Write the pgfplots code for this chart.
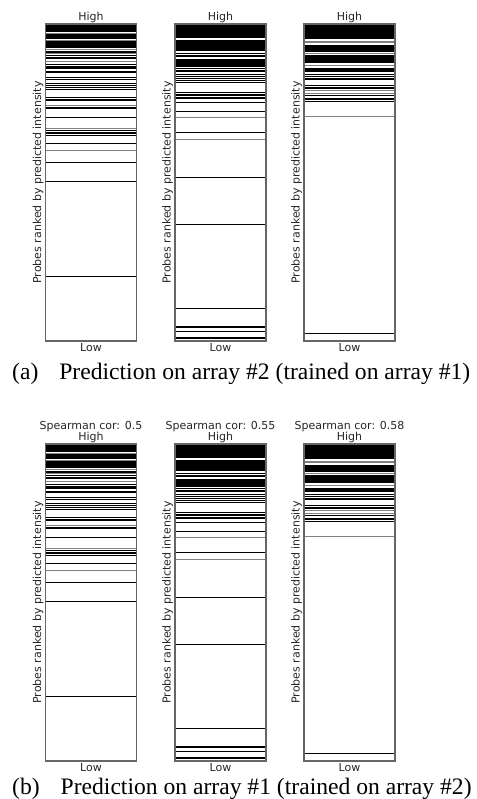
\documentclass[border=0pt]{standalone}
\usepackage{pgfplots}
\pgfplotsset{compat=1.18}
\usepackage{fontspec}
\setmainfont{DejaVu Sans}
\newfontfamily\capfont{Liberation Serif}
\newcommand{\lbl}{\fontsize{11}{11.5}\selectfont}
\newcommand{\blk}[2]{\addplot[fill=black,draw=none,forget plot] coordinates {(0,#1) (1,#1) (1,#2) (0,#2)} -- cycle;}
\newcommand{\blines}[1]{\addplot[xcomb,black,line width=0.9pt,mark=none,forget plot] coordinates {#1};}
\newcommand{\glines}[1]{\addplot[xcomb,black!50,line width=0.9pt,mark=none,forget plot] coordinates {#1};}

\newcommand{\panelA}{%
  \blk{0}{8}\blk{10}{15}\blk{17}{24}
  \glines{(1,9) (1,16) (1,25) (1,29) (1,37.5) (1,81) (1,104) (1,126)}
  \blines{(1,27) (1,28.5) (1,31) (1,33) (1,34.5) (1,40) (1,42) (1,43) (1,44.5) (1,47) (1,48) (1,53) (1,55) (1,59) (1,61) (1,63) (1,65) (1,73) (1,75) (1,76) (1,83) (1,84.5) (1,93) (1,106) (1,108) (1,109.5) (1,111) (1,119) (1,138) (1,157) (1,252)}
}
\newcommand{\panelB}{%
  \blk{0}{14.2}\blk{15.5}{27.3}\blk{28.5}{30}\blk{34.5}{43.3}
  \glines{(1,93) (1,115)}
  \blines{(1,31.3) (1,32.7) (1,44.5) (1,46) (1,47.5) (1,50) (1,52) (1,54) (1,56) (1,58) (1,68) (1,70) (1,71.5) (1,73) (1,74.5) (1,78) (1,87) (1,108) (1,153) (1,200) (1,284) (1,302.5) (1,303.5) (1,307) (1,313) (1,314.5)}
}
\newcommand{\panelC}{%
  \blk{0}{15.3}\blk{21}{27.7}\blk{31}{39.3}\blk{43.7}{48}\blk{54}{56}
  \glines{(1,17) (1,18.5) (1,29) (1,41) (1,66) (1,69) (1,92)}
  \blines{(1,50) (1,52) (1,61) (1,63) (1,64.5) (1,71) (1,74) (1,75.5) (1,77) (1,309)}
}

\pgfplotsset{
 panel/.style={
  scale only axis, width=91pt, height=317pt,
  xmin=0, xmax=1, ymin=0, ymax=317, y dir=reverse,
  xtick=\empty, ytick=\empty,
  axis on top,
  axis line style={draw=black!60, line width=1.1pt},
  xlabel={Low}, ylabel={Probes ranked by predicted intensity},
  every axis x label/.style={at={(axis description cs:0.5,0)},anchor=north,inner sep=2.5pt,font=\lbl,text=black!85},
  every axis y label/.style={at={(axis description cs:0,0.5)},rotate=90,anchor=south,inner sep=2pt,font=\lbl,text=black!85},
  every axis title/.style={at={(axis description cs:0.5,1)},anchor=south,inner sep=1pt,align=center,font=\lbl,text=black!85},
  anchor=south west,
 }
}

\begin{document}
\begin{tikzpicture}
\path[use as bounding box] (0,0) rectangle (476pt,-799pt);
% top row
\begin{axis}[panel, at={(45.5pt,-341pt)}, title={High}]
\panelA
\end{axis}
\begin{axis}[panel, at={(175pt,-341pt)}, title={High}]
\panelB
\end{axis}
\begin{axis}[panel, at={(304pt,-341pt)}, title={High}]
\panelC
\end{axis}
\node[anchor=base west, inner sep=0pt, font=\capfont\fontsize{23.6}{26}\selectfont] at (12pt,-379pt) {(a)\hspace{21pt}Prediction on array \#2 (trained on array \#1)};
% bottom row
\begin{axis}[panel, at={(45.5pt,-761pt)}, title={Spearman cor: 0.5\\High}]
\panelA
\end{axis}
\begin{axis}[panel, at={(175pt,-761pt)}, title={Spearman cor: 0.55\\High}]
\panelB
\end{axis}
\begin{axis}[panel, at={(304pt,-761pt)}, title={Spearman cor: 0.58\\High}]
\panelC
\end{axis}
\node[anchor=base west, inner sep=0pt, font=\capfont\fontsize{23.6}{26}\selectfont] at (12pt,-794pt) {(b)\hspace{21pt}Prediction on array \#1 (trained on array \#2)};
\end{tikzpicture}
\end{document}
